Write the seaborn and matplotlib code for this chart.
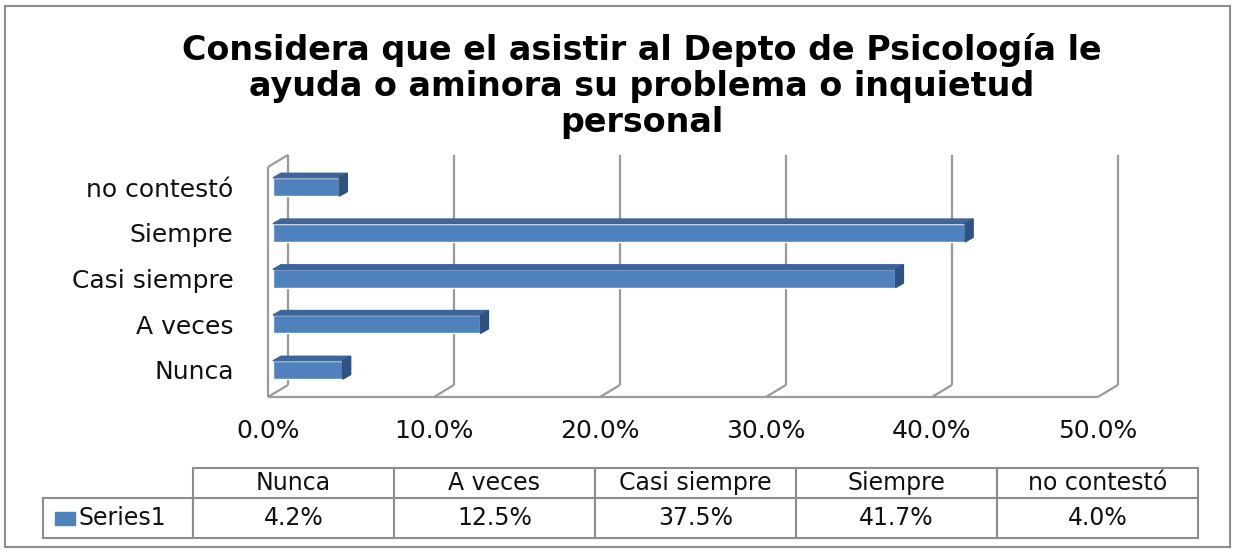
import matplotlib.pyplot as plt
import pandas as pd
import seaborn as sns
from matplotlib.patches import Polygon, Rectangle

# data
categories = ["Nunca", "A veces", "Casi siempre", "Siempre", "no contestó"]
percentages = [4.2, 12.5, 37.5, 41.7, 4.0]
series_name = "Series1"
x_ticks = [0, 10, 20, 30, 40, 50]
title = ("Considera que el asistir al Depto de Psicología le\n"
         "ayuda o aminora su problema o inquietud\n"
         "personal")

W, H = 1233, 550
FRONT = "#4F81BD"
TOP = "#3D6599"
SIDE = "#2F5283"
GRID = "#9a9a9a"
EDGE = "#8c8c8c"
TXT = "#111111"


def px_rect(x0, y0, x1, y1):
    """pixel box (top-left origin) -> figure fraction rect"""
    return [x0 / W, 1 - y1 / H, (x1 - x0) / W, (y1 - y0) / H]


sns.set_style("white")
plt.rcParams["font.family"] = ["DejaVu Sans"]

fig = plt.figure(figsize=(W / 100, H / 100), dpi=100)

# ---- 3D-ish horizontal bar chart ----
ax = fig.add_axes(px_rect(260, 150, 1130, 400))
df = pd.DataFrame({"categoria": categories, "porcentaje": percentages})
sns.barplot(
    data=df, x="porcentaje", y="categoria", order=categories[::-1],
    orient="h", color=FRONT, saturation=1, width=0.4, ax=ax, zorder=3,
)
ax.set_xlim(-0.482, 51.93)
ax.set_ylim(4.656, -0.809)

# depth offsets (data units)
bar_off = 0.3
dx_bar, dy_bar = 0.48, 0.1
dx_wall, dy_wall = 1.2, 0.262
y_floor = 4.59
y_top = -0.70

for p in list(ax.patches):
    p.set_x(p.get_x() + bar_off)
    x0, w = p.get_x(), p.get_width()
    yt, h = p.get_y(), p.get_height()
    ax.add_patch(Polygon([(x0, yt), (x0 + w, yt), (x0 + w + dx_bar, yt - dy_bar),
                          (x0 + dx_bar, yt - dy_bar)], closed=True, color=TOP, zorder=3))
    ax.add_patch(Polygon([(x0 + w, yt), (x0 + w + dx_bar, yt - dy_bar),
                          (x0 + w + dx_bar, yt + h - dy_bar), (x0 + w, yt + h)],
                         closed=True, color=SIDE, zorder=3))

# walls / gridlines
line_kw = dict(color=GRID, lw=1.6, zorder=1, clip_on=False, solid_capstyle="butt")
for t in x_ticks:
    ax.plot([t, t + dx_wall], [y_floor, y_floor - dy_wall], **line_kw)
    ax.plot([t + dx_wall, t + dx_wall], [y_floor - dy_wall, y_top], **line_kw)
ax.plot([x_ticks[0], x_ticks[-1]], [y_floor, y_floor], **line_kw)
ax.plot([0, 0], [y_floor, y_top + dy_wall], **line_kw)
ax.plot([0, dx_wall], [y_top + dy_wall, y_top], **line_kw)

ax.set_xticks(x_ticks)
ax.set_xticklabels([f"{t:.1f}%" for t in x_ticks])
ax.tick_params(axis="x", length=0, pad=14, labelsize=18, labelcolor=TXT)
ax.tick_params(axis="y", length=0, pad=19, labelsize=18, labelcolor=TXT)
ax.set_xlabel("")
ax.set_ylabel("")
ax.grid(False)
sns.despine(ax=ax, left=True, bottom=True)

# ---- data table ----
tax = fig.add_axes(px_rect(43, 468, 1198, 538))
tax.axis("off")
tbl = tax.table(
    cellText=[[""] + categories, [""] + [f"{v:.1f}%" for v in percentages]],
    colWidths=[150] + [201] * len(categories),
    cellLoc="center",
    bbox=[0, 0, 1, 1],
)
tbl.auto_set_font_size(False)
tbl.set_fontsize(17)
for (r, c), cell in tbl.get_celld().items():
    cell.set_edgecolor(EDGE)
    cell.set_linewidth(1.5)
    cell.get_text().set_color(TXT)
    cell.set_height(30 if r == 0 else 40)
tbl[0, 0].visible_edges = "open"

# legend key + series name in the table
fig.patches.append(Rectangle((55 / W, 1 - 525 / H), 20 / W, 13 / H,
                             transform=fig.transFigure, color=FRONT))
fig.text(78 / W, 1 - 518 / H, series_name, ha="left", va="center",
         fontsize=17, color=TXT)

# ---- title ----
fig.text(642 / W, 1 - 86 / H, title, ha="center", va="center", fontsize=24,
         fontweight="bold", color="black", linespacing=1.1)

# outer chart border
fig.patches.append(Rectangle((5 / W, 1 - 547 / H), 1225 / W, 541 / H, fill=False,
                             edgecolor=EDGE, lw=1.5, transform=fig.transFigure))

fig.savefig("out.png", dpi=100)
